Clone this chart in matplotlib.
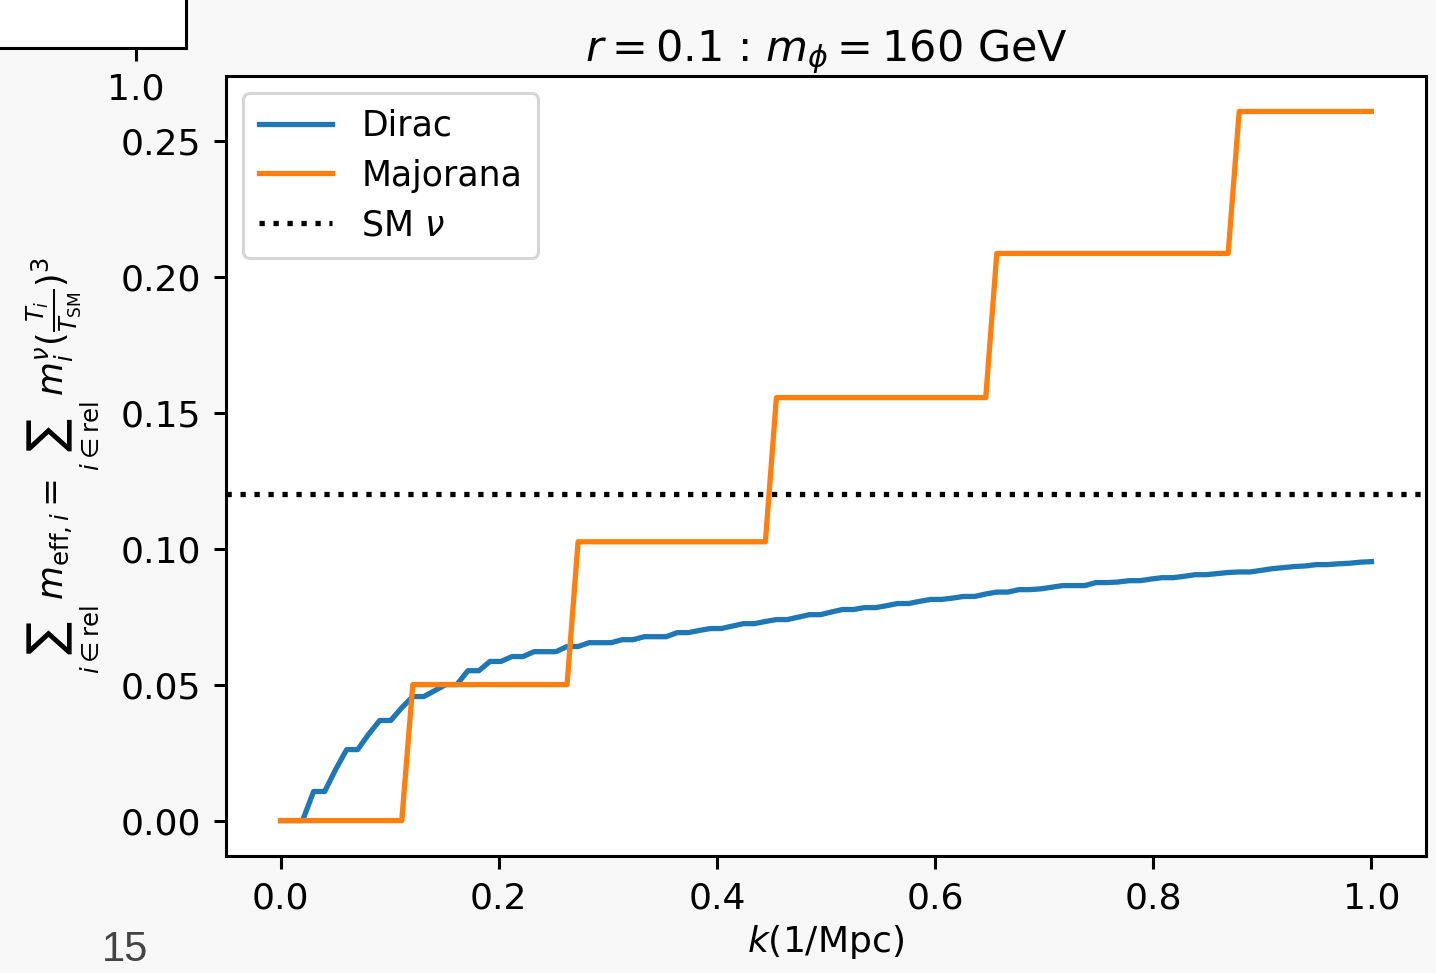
import numpy as np
import matplotlib.pyplot as plt

# k grid (1/Mpc)
k = np.linspace(0.0, 1.0, 100)

# Dirac: sum of m_eff
dirac = [0.0, 0.0, 0.0, 0.0107, 0.0107, 0.0188, 0.0261, 0.0261, 0.0318, 0.0368,
         0.0368, 0.0415, 0.0456, 0.0456, 0.0478, 0.0500, 0.0500, 0.0551, 0.0551, 0.0585,
         0.0585, 0.0603, 0.0603, 0.0621, 0.0621, 0.0621, 0.0640, 0.0640, 0.0654, 0.0654,
         0.0654, 0.0665, 0.0665, 0.0676, 0.0676, 0.0676, 0.0691, 0.0691, 0.0699, 0.0706,
         0.0706, 0.0715, 0.0724, 0.0724, 0.0732, 0.0739, 0.0739, 0.0748, 0.0757, 0.0757,
         0.0767, 0.0776, 0.0776, 0.0783, 0.0783, 0.0790, 0.0798, 0.0798, 0.0806, 0.0813,
         0.0813, 0.0818, 0.0824, 0.0824, 0.0833, 0.0840, 0.0840, 0.0849, 0.0849, 0.0852,
         0.0858, 0.0864, 0.0864, 0.0864, 0.0875, 0.0875, 0.0877, 0.0882, 0.0882, 0.0888,
         0.0893, 0.0893, 0.0898, 0.0904, 0.0904, 0.0908, 0.0912, 0.0914, 0.0914, 0.0920,
         0.0926, 0.0930, 0.0934, 0.0936, 0.0941, 0.0941, 0.0944, 0.0946, 0.0950, 0.0952]

# Majorana: step levels
majorana = ([0.0] * 12 + [0.050] * 15 + [0.1025] * 18 + [0.1555] * 20
            + [0.2085] * 22 + [0.2607] * 13)

sm_nu = 0.12

fig = plt.figure(figsize=(14.36, 9.73), dpi=100, facecolor="#f8f8f8")
ax = fig.add_axes([0.1574, 0.1202, 0.8356, 0.8017])

ax.plot(k, dirac, color="#1f77b4", lw=3.8, label="Dirac")
ax.plot(k, majorana, color="#ff7f0e", lw=3.8, label="Majorana")
ax.axhline(sm_nu, color="black", ls=":", lw=3.8, label=r"SM $\nu$")

ax.set_xticks([0.0, 0.2, 0.4, 0.6, 0.8, 1.0])
ax.set_yticks([0.0, 0.05, 0.10, 0.15, 0.20, 0.25])
ax.set_yticklabels(["0.00", "0.05", "0.10", "0.15", "0.20", "0.25"])
ax.tick_params(labelsize=26, length=9, width=2.2, pad=9)
for s in ax.spines.values():
    s.set_linewidth(2.2)

ax.set_title(r"$r = 0.1$ : $m_\phi = 160$ GeV", fontsize=31, pad=10)
ax.set_xlabel(r"$k$(1/Mpc)", fontsize=26, labelpad=6)
ax.set_ylabel(r"$\sum_{i\in{\rm rel}}\, m_{{\rm eff},i} = \sum_{i\in{\rm rel}}\, m^\nu_i(\frac{T_i}{T_{\rm SM}})^3$",
              fontsize=25, labelpad=14)

leg = ax.legend(loc="upper left", fontsize=25, handlelength=2.1, borderpad=0.45,
                labelspacing=0.45, handletextpad=0.85, framealpha=0.8)
leg.get_frame().set_linewidth(2.2)

# fragment of a neighbouring panel visible at the top left
ax2 = fig.add_axes([-0.01, 1 - 48 / 973, 200 / 1436, 60 / 973])
ax2.set_xlim(0.0, 200 / 150)
ax2.set_yticks([])
ax2.set_xticks([1.0])
ax2.set_xticklabels(["1.0"])
ax2.tick_params(labelsize=26, length=9, width=2.2, pad=9)
ax2.spines["top"].set_visible(False)
ax2.spines["left"].set_visible(False)
for s in ax2.spines.values():
    s.set_linewidth(2.2)

fig.text(125 / 1436, 1 - 950 / 973, "15", fontsize=30, color="#444444",
         family="Liberation Sans", ha="center", va="center")

fig.savefig("out.png", dpi=100, facecolor=fig.get_facecolor())
